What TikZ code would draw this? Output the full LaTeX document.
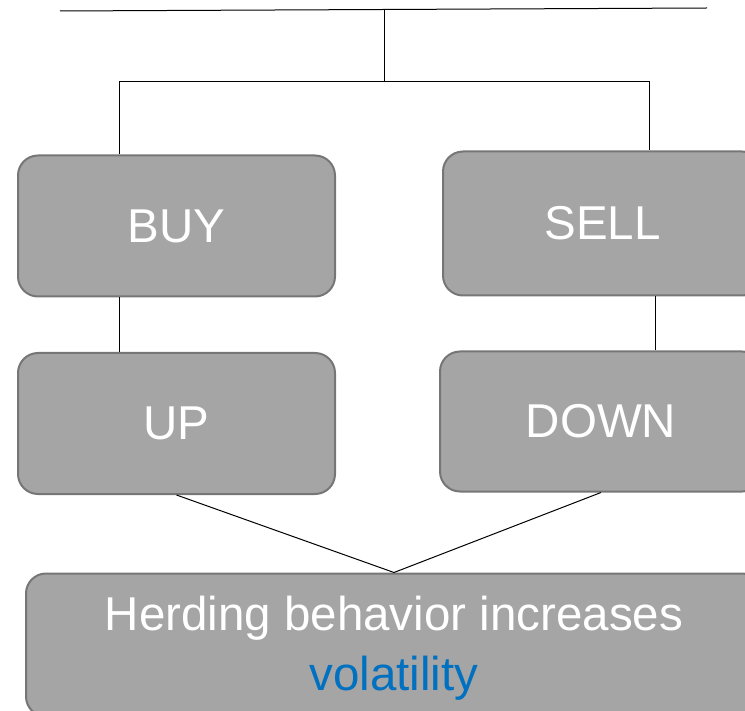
\documentclass[tikz,border=0pt]{standalone}
\usepackage{fontspec}
\setmainfont{Liberation Sans}
\definecolor{boxfill}{HTML}{A5A5A5}
\definecolor{boxline}{HTML}{767676}
\definecolor{volblue}{HTML}{0070C0}
\begin{document}
\begin{tikzpicture}[x=1pt,y=-1pt,
  card/.style={draw=boxline, line width=2pt, fill=boxfill, rounded corners=20pt,
    text=white, inner sep=0pt, font=\fontsize{47.5}{57}\selectfont, align=center},
  link/.style={draw=black, line width=1pt}]
\useasboundingbox (0,0) rectangle (745,711);
\clip (0,0) rectangle (745,711);
\node[card, minimum width=317pt, minimum height=141pt] (buy) at (176.5,226) {BUY};
\node[card, minimum width=319pt, minimum height=144pt] (sell) at (602.5,223.5) {SELL};
\node[card, minimum width=317pt, minimum height=141pt] (up) at (176.5,423.5) {UP};
\node[card, minimum width=322pt, minimum height=140pt] (down) at (601,421.5) {DOWN};
\node[card, minimum width=736pt, minimum height=143pt] (herd) at (394,645)
  {\rule{0pt}{41pt}Herding behavior increases\\[3pt]{\color{volblue}volatility}};
\coordinate (tl) at (60,11);
\coordinate (tr) at (707,8);
\coordinate (tm) at (384,9.8);
\coordinate (mid) at (384,81.5);
\coordinate (jl) at (119,81.5);
\coordinate (jr) at (649,81.5);
\coordinate (sr) at (655.5,300);
\draw[link] (tl) -- (tr);
\draw[link] (tm) -- (mid);
\draw[link] (buy.north -| jl) -- (jl) -- (jr) -- (sell.north -| jr);
\draw[link] (buy.south -| jl) -- (up.north -| jl);
\draw[link] (sell.south -| sr) -- (down.north -| sr);
\draw[link] (up.south) -- (herd.north);
\draw[link] (down.south) -- (herd.north);
\end{tikzpicture}
\end{document}
